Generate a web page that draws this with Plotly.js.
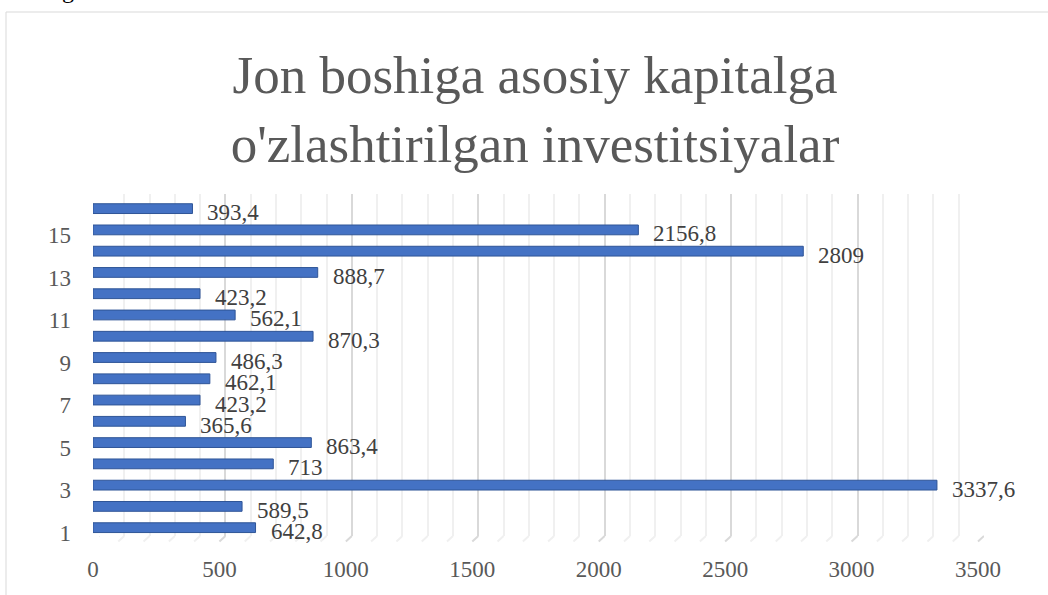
<!DOCTYPE html>
<html>
<head>
<meta charset="utf-8">
<script src="https://cdn.plot.ly/plotly-3.0.1.min.js"></script>
<style>
  html, body { margin: 0; padding: 0; background: #fff; }
  #chart { width: 1048px; height: 595px; }
</style>
</head>
<body>
<div id="chart"></div>
<script>
// ---- data ----
const categories = [1, 2, 3, 4, 5, 6, 7, 8, 9, 10, 11, 12, 13, 14, 15, 16];
const values = [642.8, 589.5, 3337.6, 713, 863.4, 365.6, 423.2, 462.1, 486.3, 870.3, 562.1, 423.2, 888.7, 2809, 2156.8, 393.4];
const xTickValues = [0, 500, 1000, 1500, 2000, 2500, 3000, 3500];
const yTickValues = [1, 3, 5, 7, 9, 11, 13, 15];
const titleText = "Jon boshiga asosiy kapitalga<br>o'zlashtirilgan investitsiyalar";

// ---- layout constants (pixels) ----
const W = 1048, H = 595;
const fx = px => px / W;
const fy = px => 1 - px / H;
const xMax = 3500;
// front (bars) plane
const barL = 93, barR = 978, barT = 198, barB = 538.3;
// back wall (gridlines), 3D offset
const gridL = 99, gridR = 984, gridT = 194, gridB = 536;
const floorFrontY = 541.5;
const kGrid = (gridR - gridL) / xMax;

const serif = "'Liberation Serif', 'Times New Roman', serif";

const labelText = values.map(v => String(v).replace('.', ','));

const traces = [
  { // helper trace for the back-wall grid subplot (invisible)
    type: 'scatter', mode: 'markers',
    x: values, y: categories,
    xaxis: 'x', yaxis: 'y',
    marker: { opacity: 0 }, hoverinfo: 'skip', showlegend: false
  },
  {
    type: 'bar', orientation: 'h',
    x: values, y: categories,
    xaxis: 'x2', yaxis: 'y2',
    width: 0.46,
    marker: { color: '#4472C4', line: { color: '#2F5597', width: 1 } },
    hoverinfo: 'x+y', showlegend: false
  }
];

const annotations = values.map((v, i) => ({
  xref: 'x2', yref: 'y2', x: v, y: categories[i],
  text: labelText[i], showarrow: false,
  xanchor: 'left', yanchor: 'middle', xshift: 13, yshift: -4,
  font: { family: serif, size: 23, color: '#404040' }
}));
annotations.push({
  xref: 'paper', yref: 'paper', x: fx(68), y: fy(5),
  text: 'g', showarrow: false, xanchor: 'center', yanchor: 'bottom',
  font: { family: serif, size: 24, color: '#000' }
});

// floor lines of the 3D back wall, generated from the grid steps
const shapes = [];
for (let v = 0; v <= xMax; v += 100) {
  const major = v % 500 === 0;
  shapes.push({
    type: 'line', xref: 'x', yref: 'paper',
    x0: v - 6 / kGrid, x1: v, y0: fy(floorFrontY), y1: fy(gridB),
    line: { color: major ? '#d9d9d9' : '#f0f0f0', width: 2 }, layer: 'below'
  });
}
// chart border
shapes.push({
  type: 'rect', xref: 'paper', yref: 'paper',
  x0: fx(6), x1: 1.02, y0: -0.02, y1: fy(12),
  line: { color: '#d9d9d9', width: 1 }, fillcolor: 'rgba(0,0,0,0)'
});

const layout = {
  width: W, height: H,
  margin: { l: 0, r: 0, t: 0, b: 0, pad: 0 },
  paper_bgcolor: '#fff', plot_bgcolor: 'rgba(0,0,0,0)',
  showlegend: false,
  title: {
    text: titleText,
    x: fx(535), xanchor: 'center',
    yref: 'container', y: fy(93), yanchor: 'top',
    font: { family: serif, size: 53, color: '#595959' }
  },
  xaxis: {
    domain: [fx(gridL), fx(gridR)], anchor: 'y',
    range: [0, xMax], showticklabels: false, ticks: '',
    showgrid: true, gridcolor: '#d9d9d9', gridwidth: 2, dtick: 500, tick0: 0,
    minor: { dtick: 100, showgrid: true, gridcolor: '#f0f0f0', gridwidth: 2 },
    zeroline: false, showline: false, fixedrange: true
  },
  yaxis: {
    domain: [fy(gridB), fy(gridT)], anchor: 'x',
    range: [0.5, 16.5], showticklabels: false, showgrid: false,
    zeroline: false, showline: false, ticks: '', fixedrange: true
  },
  xaxis2: {
    domain: [fx(barL), fx(barR)], anchor: 'y2',
    range: [0, xMax], tickvals: xTickValues,
    ticktext: xTickValues.map(String),
    showgrid: false, zeroline: false, showline: false, ticks: '',
    ticklabelstandoff: 15,
    tickfont: { family: serif, size: 23, color: '#595959' }, fixedrange: true
  },
  yaxis2: {
    domain: [fy(barB), fy(barT)], anchor: 'x2',
    range: [0.5, 16.5], tickvals: yTickValues,
    ticktext: yTickValues.map(String),
    showgrid: false, zeroline: false, showline: false, ticks: '',
    ticklabelstandoff: 21, ticklabelshift: 5,
    tickfont: { family: serif, size: 23, color: '#595959' }, fixedrange: true
  },
  annotations: annotations,
  shapes: shapes,
  bargap: 0.5
};

Plotly.newPlot('chart', traces, layout, { displayModeBar: false, staticPlot: true });
</script>
</body>
</html>
